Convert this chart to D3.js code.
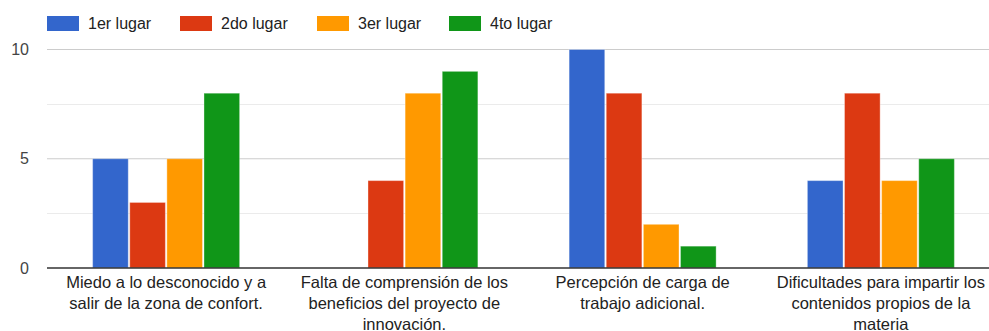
<!DOCTYPE html>
<html>
<head>
<meta charset="utf-8">
<script src="https://cdn.jsdelivr.net/npm/d3@7"></script>
<style>
  html, body { margin: 0; padding: 0; background: #fff; }
  svg { display: block; font-family: Arial, "Liberation Sans", sans-serif; }
</style>
</head>
<body>
<svg id="chart" width="989" height="331"></svg>
<script>
// Categories (each label pre-split into its display lines)
const categories = [
  "Miedo a lo desconocido y a salir de la zona de confort.",
  "Falta de comprensión de los beneficios del proyecto de innovación.",
  "Percepción de carga de trabajo adicional.",
  "Dificultades para impartir los contenidos propios de la materia"
];
const categoryLines = [
  ["Miedo a lo desconocido y a", "salir de la zona de confort."],
  ["Falta de comprensión de los", "beneficios del proyecto de", "innovación."],
  ["Percepción de carga de", "trabajo adicional."],
  ["Dificultades para impartir los", "contenidos propios de la", "materia"]
];
const seriesNames = ["1er lugar", "2do lugar", "3er lugar", "4to lugar"];
const seriesColors = ["#3366cc", "#dc3912", "#ff9900", "#109618"];
const primero = [5, 0, 10, 4];
const segundo = [3, 4, 8, 8];
const tercero = [5, 8, 2, 4];
const cuarto  = [8, 9, 1, 5];
const yTicks = [0, 5, 10];
const yMinorTicks = [2.5, 7.5];

const seriesValues = [primero, segundo, tercero, cuarto];

const svg = d3.select("#chart");
const plotLeft = 47, plotRight = 1000, plotTop = 49.5, plotBottom = 268;

const x0 = d3.scaleBand()
  .domain(d3.range(categories.length))
  .range([plotLeft, plotRight])
  .paddingInner(0.383)
  .paddingOuter(0.1915);

const x1 = d3.scaleBand()
  .domain(d3.range(seriesNames.length))
  .range([0, x0.bandwidth()])
  .paddingInner(0.04)
  .paddingOuter(0);

const y = d3.scaleLinear().domain([0, 10]).range([plotBottom, plotTop]);

// Gridlines
svg.append("g").selectAll("line").data(yMinorTicks).join("line")
  .attr("x1", plotLeft).attr("x2", 989)
  .attr("y1", d => Math.round(y(d)) + 0.5).attr("y2", d => Math.round(y(d)) + 0.5)
  .attr("stroke", "#ebebeb").attr("stroke-width", 1);

svg.append("g").selectAll("line").data(yTicks.filter(d => d !== 0)).join("line")
  .attr("x1", plotLeft).attr("x2", 989)
  .attr("y1", d => y(d)).attr("y2", d => y(d))
  .attr("stroke", "#cccccc").attr("stroke-width", 1);

// Y tick labels
svg.append("g").selectAll("text").data(yTicks).join("text")
  .attr("x", 29).attr("y", d => y(d))
  .attr("dy", "0.35em")
  .attr("text-anchor", "end")
  .attr("font-size", 16)
  .attr("fill", "#444")
  .text(d => d);

// Bars
const groups = svg.append("g").selectAll("g").data(categories).join("g")
  .attr("transform", (d, i) => `translate(${x0(i)},0)`);

groups.selectAll("rect")
  .data((d, i) => seriesValues.map((vals, s) => ({ s, v: vals[i] })).filter(e => e.v > 0))
  .join("rect")
  .attr("x", d => x1(d.s))
  .attr("y", d => y(d.v))
  .attr("width", x1.bandwidth())
  .attr("height", d => y(0) - y(d.v))
  .attr("fill", d => seriesColors[d.s])
  .attr("stroke", "#ffffff")
  .attr("stroke-opacity", 0.35)
  .attr("stroke-width", 1);

// Baseline
svg.append("line")
  .attr("x1", plotLeft).attr("x2", 989)
  .attr("y1", plotBottom).attr("y2", plotBottom)
  .attr("stroke", "#333").attr("stroke-width", 1.5);

// Category labels
const labels = svg.append("g").selectAll("text").data(categoryLines).join("text")
  .attr("text-anchor", "middle")
  .attr("font-size", 16.5)
  .attr("fill", "#222");
labels.each(function(lines, i) {
  const cx = x0(i) + x0.bandwidth() / 2;
  d3.select(this).selectAll("tspan").data(lines).join("tspan")
    .attr("x", cx)
    .attr("y", (d, j) => 288 + j * 21)
    .text(d => d);
});

// Legend
const legendX = [47, 180, 317, 449];
const legend = svg.append("g").selectAll("g").data(seriesNames).join("g")
  .attr("transform", (d, i) => `translate(${legendX[i]},16)`);
legend.append("rect")
  .attr("width", 32).attr("height", 15)
  .attr("fill", (d, i) => seriesColors[i]);
legend.append("text")
  .attr("x", 41).attr("y", 7.5).attr("dy", "0.35em")
  .attr("font-size", 16)
  .attr("fill", "#222")
  .text(d => d);
</script>
</body>
</html>
